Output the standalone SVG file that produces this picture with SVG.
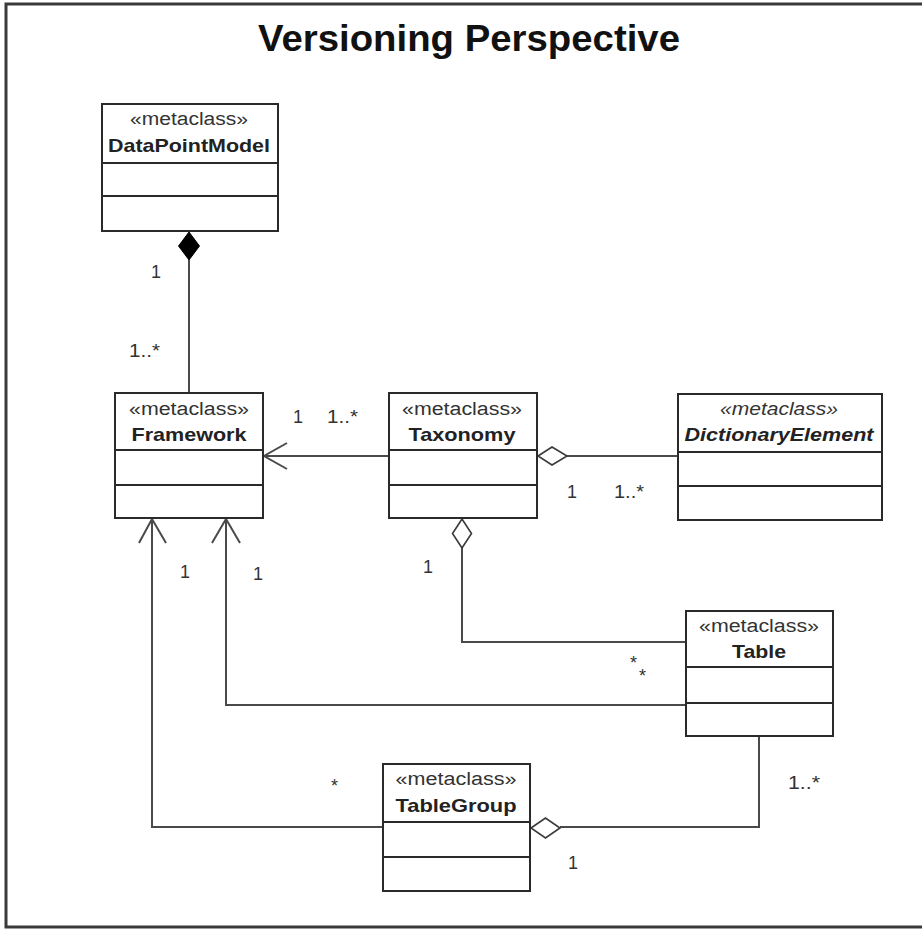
<svg xmlns="http://www.w3.org/2000/svg" width="922" height="929" viewBox="0 0 922 929">
  <style>
    .box { fill: #ffffff; stroke: #2a2a2a; stroke-width: 2; }
    .sep { stroke: #2a2a2a; stroke-width: 2; }
    .edge { fill: none; stroke: #4a4a4a; stroke-width: 2; }
    .agg { fill: #ffffff; stroke: #3a3a3a; stroke-width: 1.6; }
    .comp { fill: #000000; stroke: #000000; stroke-width: 1; }
    .st { font-family: "Liberation Sans", Arial, sans-serif; font-size: 18px; fill: #333333; text-anchor: middle; }
    .nm { font-family: "Liberation Sans", Arial, sans-serif; font-size: 19px; font-weight: bold; fill: #222222; text-anchor: middle; }
    .it { font-style: italic; }
    .mult { font-family: "Liberation Sans", Arial, sans-serif; font-size: 18px; fill: #333333; }
    .title { font-family: "Liberation Sans", Arial, sans-serif; font-size: 37px; font-weight: bold; fill: #111111; text-anchor: middle; }
  </style>

  <rect x="0" y="0" width="922" height="929" fill="#ffffff"/>
  <!-- outer frame (open on the right) -->
  <polyline points="935,4 6,4 6,927 935,927" fill="none" stroke="#3a3a3a" stroke-width="3"/>

  <text class="title" x="469" y="51" textLength="422" lengthAdjust="spacingAndGlyphs">Versioning Perspective</text>

  <!-- connectors -->
  <g id="connectors">
    <!-- DataPointModel composes Framework -->
    <line class="edge" x1="189" y1="260" x2="189" y2="393"/>
    <polygon class="comp" points="189,232 199.5,246 189,260 178.5,246"/>

    <!-- Taxonomy -> Framework -->
    <line class="edge" x1="389" y1="456" x2="264" y2="456"/>
    <polyline class="edge" points="287,443 264,456 287,469"/>

    <!-- Taxonomy aggregates DictionaryElement -->
    <line class="edge" x1="567" y1="456" x2="678" y2="456"/>
    <polygon class="agg" points="538,456 552,447 567,456 552,465"/>

    <!-- Taxonomy aggregates Table -->
    <polyline class="edge" points="462,548 462,642 686,642"/>
    <polygon class="agg" points="462,519 471.5,533.5 462,548 452.5,533.5"/>

    <!-- Table -> Framework -->
    <polyline class="edge" points="686,705 226,705 226,519"/>
    <polyline class="edge" points="212,543 226,519 240,543"/>

    <!-- TableGroup -> Framework -->
    <polyline class="edge" points="383,827 152,827 152,519"/>
    <polyline class="edge" points="139,543 152,519 166,543"/>

    <!-- TableGroup aggregates Table -->
    <polyline class="edge" points="560,827 759,827 759,736"/>
    <polygon class="agg" points="531,828 545.5,818 560,828 545.5,838"/>
  </g>

  <!-- multiplicities -->
  <g id="multiplicities">
    <text class="mult" x="151" y="278">1</text>
    <text class="mult" x="129" y="357" textLength="31" lengthAdjust="spacingAndGlyphs">1..*</text>
    <text class="mult" x="293" y="423">1</text>
    <text class="mult" x="327" y="423" textLength="31" lengthAdjust="spacingAndGlyphs">1..*</text>
    <text class="mult" x="567" y="498">1</text>
    <text class="mult" x="614" y="498" textLength="30" lengthAdjust="spacingAndGlyphs">1..*</text>
    <text class="mult" x="423" y="573">1</text>
    <text class="mult" x="180" y="578">1</text>
    <text class="mult" x="253" y="580">1</text>
    <text class="mult" x="630" y="669">*</text>
    <text class="mult" x="639" y="682">*</text>
    <text class="mult" x="331" y="792">*</text>
    <text class="mult" x="788" y="789" textLength="32" lengthAdjust="spacingAndGlyphs">1..*</text>
    <text class="mult" x="568" y="869">1</text>
  </g>

  <g id="DataPointModel">
    <rect class="box" x="102" y="104" width="176" height="127"/>
    <line class="sep" x1="102" y1="163" x2="278" y2="163"/>
    <line class="sep" x1="102" y1="196" x2="278" y2="196"/>
    <text class="st" x="189" y="125" textLength="118" lengthAdjust="spacingAndGlyphs">«metaclass»</text>
    <text class="nm" x="189" y="152" textLength="162" lengthAdjust="spacingAndGlyphs">DataPointModel</text>
  </g>

  <g id="Framework">
    <rect class="box" x="115" y="393" width="148" height="125"/>
    <line class="sep" x1="115" y1="450" x2="263" y2="450"/>
    <line class="sep" x1="115" y1="485" x2="263" y2="485"/>
    <text class="st" x="189" y="415" textLength="120" lengthAdjust="spacingAndGlyphs">«metaclass»</text>
    <text class="nm" x="189" y="441" textLength="115" lengthAdjust="spacingAndGlyphs">Framework</text>
  </g>

  <g id="Taxonomy">
    <rect class="box" x="389" y="393" width="148" height="125"/>
    <line class="sep" x1="389" y1="450" x2="537" y2="450"/>
    <line class="sep" x1="389" y1="485" x2="537" y2="485"/>
    <text class="st" x="462" y="415" textLength="120" lengthAdjust="spacingAndGlyphs">«metaclass»</text>
    <text class="nm" x="462" y="441" textLength="107" lengthAdjust="spacingAndGlyphs">Taxonomy</text>
  </g>

  <g id="DictionaryElement">
    <rect class="box" x="678" y="394" width="204" height="126"/>
    <line class="sep" x1="678" y1="452" x2="882" y2="452"/>
    <line class="sep" x1="678" y1="486" x2="882" y2="486"/>
    <text class="st it" x="779" y="415" textLength="118" lengthAdjust="spacingAndGlyphs">«metaclass»</text>
    <text class="nm it" x="779" y="441" textLength="189" lengthAdjust="spacingAndGlyphs">DictionaryElement</text>
  </g>

  <g id="Table">
    <rect class="box" x="686" y="611" width="147" height="125"/>
    <line class="sep" x1="686" y1="667" x2="833" y2="667"/>
    <line class="sep" x1="686" y1="703" x2="833" y2="703"/>
    <text class="st" x="759" y="632" textLength="120" lengthAdjust="spacingAndGlyphs">«metaclass»</text>
    <text class="nm" x="759" y="658" textLength="54" lengthAdjust="spacingAndGlyphs">Table</text>
  </g>

  <g id="TableGroup">
    <rect class="box" x="383" y="764" width="147" height="127"/>
    <line class="sep" x1="383" y1="822" x2="530" y2="822"/>
    <line class="sep" x1="383" y1="857" x2="530" y2="857"/>
    <text class="st" x="456" y="785" textLength="121" lengthAdjust="spacingAndGlyphs">«metaclass»</text>
    <text class="nm" x="456" y="812" textLength="121" lengthAdjust="spacingAndGlyphs">TableGroup</text>
  </g>
</svg>
